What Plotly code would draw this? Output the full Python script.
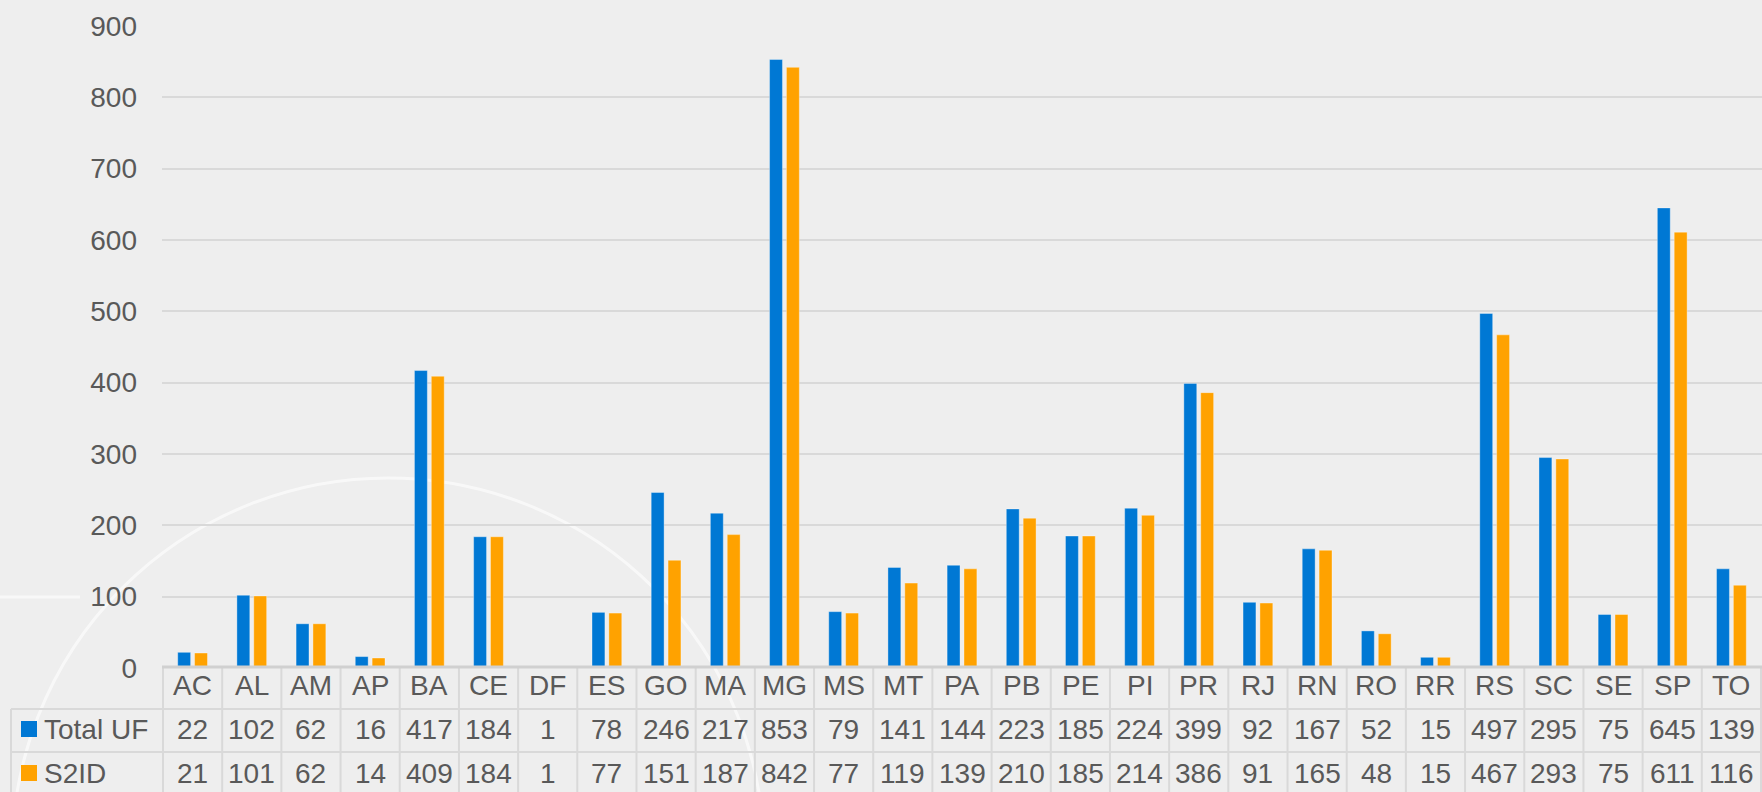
import plotly.graph_objects as go

# Unidades da federação e contagens por fonte
ufs = ['AC', 'AL', 'AM', 'AP', 'BA', 'CE', 'DF', 'ES', 'GO', 'MA', 'MG', 'MS', 'MT', 'PA',
       'PB', 'PE', 'PI', 'PR', 'RJ', 'RN', 'RO', 'RR', 'RS', 'SC', 'SE', 'SP', 'TO']
total_uf = [22, 102, 62, 16, 417, 184, 1, 78, 246, 217, 853, 79, 141, 144,
            223, 185, 224, 399, 92, 167, 52, 15, 497, 295, 75, 645, 139]
s2id = [21, 101, 62, 14, 409, 184, 1, 77, 151, 187, 842, 77, 119, 139,
        210, 185, 214, 386, 91, 165, 48, 15, 467, 293, 75, 611, 116]
series = [('Total UF', total_uf, '#0078D4'), ('S2ID', s2id, '#FFA200')]

W, H = 1762, 792
L, R, T, B = 162, 0, 26, 124
plot_w, plot_h = W - L - R, H - T - B
BG = '#EEEEEE'
GRID = '#D9D9D9'
TXT = '#595959'
FONT = 'Liberation Sans'


def px_x(x):
    # pixel -> paper (horizontal)
    return (x - L) / plot_w


def px_y(y):
    # pixel -> paper (vertical)
    return (H - B - y) / plot_h


fig = go.Figure()
for nome, vals, cor in series:
    fig.add_trace(go.Bar(x=ufs, y=vals, name=nome,
                         marker=dict(color=cor, line=dict(color='rgba(255,255,255,0.35)', width=1))))

shapes = []
annotations = []

# marca d'água (círculo claro)
shapes.append(dict(type='circle', xref='paper', yref='paper', layer='below',
                   x0=px_x(12), x1=px_x(764), y0=px_y(1230), y1=px_y(478),
                   line=dict(color='rgba(255,255,255,0.6)', width=3)))
shapes.append(dict(type='line', xref='paper', yref='paper', layer='below',
                   x0=px_x(0), x1=px_x(80), y0=px_y(597), y1=px_y(597),
                   line=dict(color='rgba(255,255,255,0.6)', width=3)))

# tabela de dados abaixo do gráfico
row_header, row_total, row_s2id = 686, 729, 773
y_top, y_l1, y_l2, y_bot = 667, 709, 752, 800

for i in range(len(ufs) + 1):
    shapes.append(dict(type='line', xref='x', yref='paper', x0=i - 0.5, x1=i - 0.5,
                       y0=px_y(y_top), y1=px_y(y_bot), line=dict(color=GRID, width=2)))
for yy in (y_l1, y_l2):
    shapes.append(dict(type='line', xref='paper', yref='paper', x0=px_x(11), x1=1.01,
                       y0=px_y(yy), y1=px_y(yy), line=dict(color=GRID, width=2)))
shapes.append(dict(type='line', xref='paper', yref='paper', x0=px_x(11), x1=px_x(11),
                   y0=px_y(y_l1), y1=px_y(y_bot), line=dict(color=GRID, width=2)))
shapes.append(dict(type='line', xref='paper', yref='paper', x0=0, x1=1.01,
                   y0=px_y(y_top), y1=px_y(y_top), line=dict(color='#D0D0D0', width=3)))

for i, uf in enumerate(ufs):
    annotations.append(dict(x=uf, y=px_y(row_header), xref='x', yref='paper', text=uf,
                            xanchor='center', yanchor='middle', showarrow=False,
                            font=dict(size=28, color=TXT, family=FONT)))
    for (nome, vals, cor), yy in zip(series, (row_total, row_s2id)):
        annotations.append(dict(x=uf, y=px_y(yy), xref='x', yref='paper', text=str(vals[i]),
                                xanchor='center', yanchor='middle', showarrow=False,
                                font=dict(size=28, color=TXT, family=FONT)))

for (nome, vals, cor), yy in zip(series, (row_total, row_s2id)):
    shapes.append(dict(type='rect', xref='paper', yref='paper', x0=px_x(21), x1=px_x(37),
                       y0=px_y(yy + 8), y1=px_y(yy - 8), fillcolor=cor, line=dict(width=0)))
    annotations.append(dict(x=px_x(42), y=px_y(yy), xref='paper', yref='paper', text=nome,
                            xanchor='left', yanchor='middle', showarrow=False,
                            font=dict(size=28, color=TXT, family=FONT)))

fig.update_layout(
    width=W, height=H,
    margin=dict(l=L, r=R, t=T, b=B),
    paper_bgcolor=BG, plot_bgcolor=BG,
    barmode='group', bargap=0.43, bargroupgap=0.235,
    showlegend=False,
    shapes=shapes, annotations=annotations,
    font=dict(family=FONT, color=TXT, size=28),
)
fig.update_xaxes(showticklabels=False, showgrid=False, zeroline=False, showline=False)
fig.update_yaxes(range=[0, 900], dtick=100, showgrid=True, gridcolor=GRID, gridwidth=2,
                 zeroline=False, showline=False, ticks='', ticklabelstandoff=24,
                 tickfont=dict(size=28, color=TXT, family=FONT))

# sem margem do body para o gráfico ocupar a janela inteira
fig.write_html("out.html", config={'displayModeBar': False},
               post_script="document.body.style.margin='0';document.body.style.background='#EEEEEE';")
